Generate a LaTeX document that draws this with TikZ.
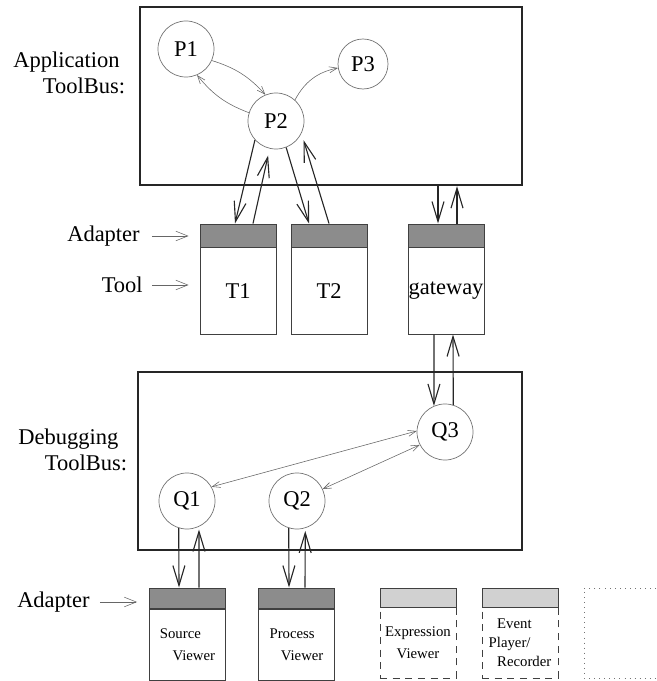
\documentclass[tikz,border=0pt]{standalone}
\usepackage{fontspec}
\setmainfont{Liberation Serif}
\usetikzlibrary{arrows.meta, positioning, calc}

\newcommand{\bigtxt}{\fontsize{16}{18}\selectfont}
\newcommand{\smalltxt}{\fontsize{10.5}{15.5}\selectfont}

\begin{document}
\begin{tikzpicture}[x=0.025cm, y=-0.025cm,
  bus/.style={rectangle, draw=black!85, line width=1.6pt, minimum height=4.45cm},
  proc/.style={circle, draw=black!55, line width=0.5pt, minimum size=1.4cm,
               inner sep=0pt, font=\bigtxt},
  adapter/.style={rectangle, draw=black!75, line width=0.7pt, fill=black!45,
                  minimum width=1.9cm, inner sep=0pt},
  pale/.style={adapter, fill=black!18},
  tool/.style={rectangle, draw=black!75, line width=0.7pt, minimum width=1.9cm,
               inner sep=0pt},
  dashbox/.style={tool, dash pattern=on 5pt off 4pt},
  lbl/.style={inner sep=0pt, font=\bigtxt, align=left},
  bigarrow/.style={-{Straight Barb[length=5mm, width=3mm]}, line width=0.8pt, black!85},
  thinarrow/.style={-{Straight Barb[length=2mm, width=1.5mm]}, line width=0.4pt, black!60},
  thinboth/.style={{Straight Barb[length=2mm, width=1.5mm]}-{Straight Barb[length=2mm, width=1.5mm]},
                   line width=0.4pt, black!60},
  lblarrow/.style={-{Straight Barb[length=3mm, width=2.4mm]}, line width=0.4pt, black!60}
]
  \useasboundingbox (0,0) rectangle (656,681);

  % Application ToolBus
  \node[bus, minimum width=9.55cm] (appbus) at (331,96) {};
  \node[lbl, anchor=west] (applbl) at (13,73) {Application\\\hspace{21pt}ToolBus:};

  \node[proc] (P1) at (186,49) {P1};
  \node[proc, minimum size=1.25cm] (P3) at (363,64) {P3};
  \node[proc] (P2) at (276,121) {P2};

  \draw[thinarrow] (P1.336) to[bend left=15] (P2.112);
  \draw[thinarrow] (P2.163) to[bend left=15] (P1.293);
  \draw[thinarrow] (P2.48) to[bend left=25] (P3.189);

  % tools
  \node[adapter, minimum height=0.575cm] (T1ad) at (238,235.5) {};
  \node[tool, minimum height=2.15cm, below=0pt of T1ad, font=\bigtxt] (T1) {T1};
  \node[adapter, minimum height=0.575cm] (T2ad) at (329,235.5) {};
  \node[tool, minimum height=2.15cm, below=0pt of T2ad, font=\bigtxt] (T2) {T2};
  \node[adapter, minimum height=0.575cm] (gwad) at (446,235.5) {};
  \node[tool, minimum height=2.15cm, below=0pt of gwad, font=\bigtxt] (gw) {gateway};

  \node[lbl, anchor=east] (adlbl) at (140,236) {Adapter};
  \node[lbl, anchor=east] (toollbl) at (143,285) {Tool};
  \draw[lblarrow, shorten <=8.5pt, shorten >=7.8pt] (adlbl.east) -- (adlbl.east -| T1ad.west);
  \draw[lblarrow, shorten <=6.5pt, shorten >=7.8pt] (toollbl.east) -- (toollbl.east -| T1.west);

  \draw[bigarrow] (P2.222) -- ($(T1ad.north)+(-3,0)$);
  \draw[bigarrow, shorten >=5pt] ($(T1ad.north)+(15,0)$) -- (P2.257);
  \draw[bigarrow] (P2.291) -- ($(T2ad.north)+(-20,0)$);
  \draw[bigarrow, shorten >=5pt] (T2ad.north) -- (P2.334);

  \coordinate (gwin) at ($(gwad.north)+(-8,0)$);
  \coordinate (gwout) at ($(gwad.north)+(11,0)$);
  \draw[bigarrow] (gwin |- appbus.south) -- (gwin);
  \draw[bigarrow] (gwout) -- (gwout |- appbus.south);

  % Debugging ToolBus
  \node[bus, minimum width=9.6cm] (dbgbus) at (330,461) {};
  \node[lbl, anchor=west] (dbglbl) at (18,450) {Debugging\\\hspace{19pt}ToolBus:};

  \node[proc] (Q3) at (445,432) {Q3};
  \node[proc] (Q1) at (187,501) {Q1};
  \node[proc] (Q2) at (297,501) {Q2};

  \draw[thinboth] (Q3.178) -- (Q1.30);
  \draw[thinboth] (Q3.207) -- (Q2.25);

  \draw[bigarrow] ($(gw.south)+(-12,0)$) -- (Q3.113);
  \draw[bigarrow] (Q3.73) -- ($(gw.south)+(7,0)$);

  % viewers
  \node[adapter, minimum height=0.5cm] (svad) at (187.5,598) {};
  \node[tool, minimum height=1.775cm, below=0pt of svad, font=\smalltxt, align=left] (sv)
    {Source\\\hspace{9pt}Viewer};
  \node[adapter, minimum height=0.5cm] (pvad) at (296.5,598) {};
  \node[tool, minimum height=1.775cm, below=0pt of pvad, font=\smalltxt, align=left] (pv)
    {Process\\\hspace{8pt}Viewer};
  \node[dashbox, minimum height=1.775cm, font=\smalltxt, align=center] (ex) at (418,642.5)
    {Expression\\Viewer};
  \node[pale, minimum height=0.475cm] (exad) at (418,597.5) {};
  \node[dashbox, minimum height=1.775cm, font=\smalltxt, align=left] (ev) at (520,642.5)
    {\hspace{6pt}Event\\[-2pt]Player/\\[-2pt]\hspace{6pt}Recorder};
  \node[pale, minimum height=0.475cm] (evad) at (520,597.5) {};
  \draw[line width=0.6pt, black!55, dash pattern=on 0.6pt off 3pt]
    (656,588) -- (584,588) -- (584,678) -- (656,678);

  \node[lbl, anchor=east] (adlbl2) at (90,602) {Adapter};
  \draw[lblarrow, shorten <=7pt, shorten >=8.5pt] (adlbl2.east) -- (adlbl2.east -| svad.west);

  \draw[bigarrow] (Q1.253) -- ($(svad.north)+(-8.5,0)$);
  \draw[bigarrow, shorten >=2pt] ($(svad.north)+(11.5,0)$) -- (Q1.295);
  \draw[bigarrow] (Q2.253) -- ($(pvad.north)+(-7.5,0)$);
  \draw[bigarrow, shorten >=2pt] ($(pvad.north)+(8.5,0)$) -- (Q2.287);
\end{tikzpicture}
\end{document}
